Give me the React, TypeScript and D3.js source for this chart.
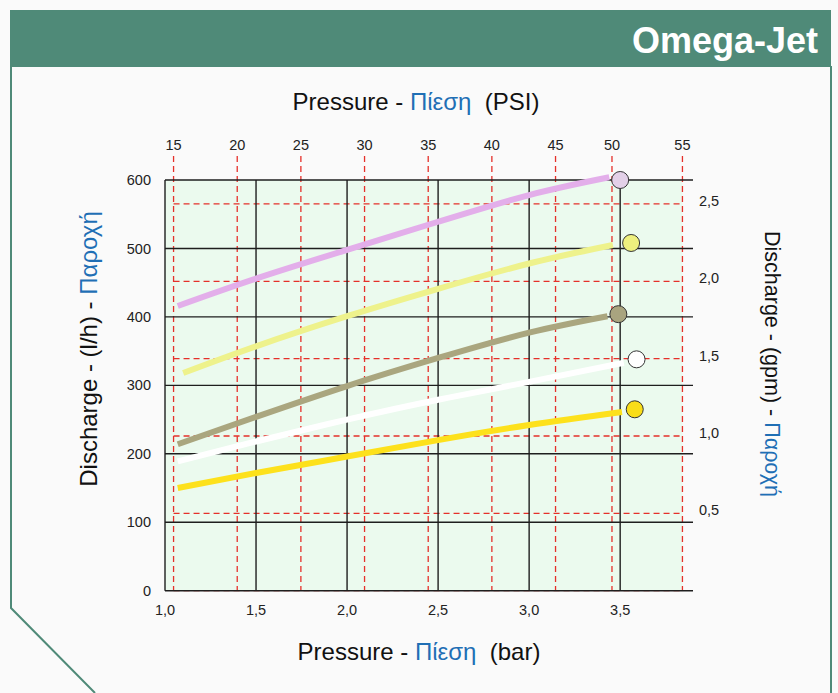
import React from "react";
import * as d3 from "d3";

const W = 838;
const H = 693;

// Data
const barTicks = [1.0, 1.5, 2.0, 2.5, 3.0, 3.5];
const lhTicks = [0, 100, 200, 300, 400, 500, 600];
const psiTicks = [15, 20, 25, 30, 35, 40, 45, 50, 55];
const gpmTicks = [0, 0.5, 1.0, 1.5, 2.0, 2.5];
const psiKnots = [15, 45, 50, 55];
const psiKnotsBar = [1.047, 3.145, 3.455, 3.842];
const lhPerGpm = 226;

const seriesNames = ["lilac", "paleYellow", "khaki", "white", "yellow"];
const lilacBar = [1.07, 1.5, 2.0, 2.5, 3.0, 3.44];
const lilacLh = [416, 456, 498, 539, 578, 604];
const paleYellowBar = [1.1, 1.5, 2.0, 2.5, 3.0, 3.46];
const paleYellowLh = [318, 357, 401, 441, 478, 505];
const khakiBar = [1.07, 1.5, 2.0, 2.5, 3.0, 3.43];
const khakiLh = [214, 254, 299, 340, 377, 401];
const whiteBar = [1.07, 1.5, 2.0, 2.5, 3.0, 3.52];
const whiteLh = [189, 218, 250, 279, 305, 333];
const yellowBar = [1.07, 1.5, 2.0, 2.5, 3.0, 3.51];
const yellowLh = [150, 172, 196, 220, 242, 261];

const markerBar = [3.5, 3.56, 3.49, 3.59, 3.58];
const markerLh = [600, 508, 404, 338, 265];

const lineColors = ["#e3aeea", "#eef28c", "#aaa67f", "#ffffff", "#fde11c"];
const markerColors = ["#e3d0e8", "#eef07e", "#a9a47f", "#ffffff", "#f9dd18"];

const seriesBar = [lilacBar, paleYellowBar, khakiBar, whiteBar, yellowBar];
const seriesLh = [lilacLh, paleYellowLh, khakiLh, whiteLh, yellowLh];

const fmt = (v: number) => v.toFixed(1).replace(".", ",");

export default function App() {
  const x = d3.scaleLinear().domain([1, 3.9]).range([165, 693]);
  const y = d3.scaleLinear().domain([0, 600]).range([590.7, 180]);
  const psiBar = d3.scaleLinear().domain(psiKnots).range(psiKnotsBar);
  const px = (p: number) => x(psiBar(p));
  const gy = (g: number) => y(g * lhPerGpm);

  const line = d3
    .line<[number, number]>()
    .x((d) => x(d[0]))
    .y((d) => y(d[1]))
    .curve(d3.curveNatural);

  const green = "#4f8a78";
  const red = "#e5302a";
  const grid = "#1e1e1e";
  const font = "'Liberation Sans', Arial, Helvetica, sans-serif";

  const xL = x(1);
  const xR = x(3.9);
  const yT = y(600);
  const yB = y(0);
  const psiL = px(15);
  const psiR = px(55);

  return (
    <svg
      width={W}
      height={H}
      style={{ position: "absolute", left: 0, top: 0, display: "block", background: "#fafafa" }}
      fontFamily={font}
    >
      <rect x={0} y={0} width={W} height={H} fill="#fafafa" />
      {/* header */}
      <rect x={10} y={10} width={821} height={57} fill={green} />
      <text x={818} y={53} textAnchor="end" fill="#fff" fontSize={36} fontWeight="bold">
        Omega-Jet
      </text>
      {/* frame */}
      <path d={`M11,66 L11,608 L95,693`} fill="none" stroke={green} strokeWidth={2} />
      <line x1={831} y1={66} x2={831} y2={H} stroke={green} strokeWidth={2} />

      {/* plot background */}
      <rect x={xL} y={yT} width={psiR - xL} height={yB - yT} fill="#ebfaee" />

      {/* red dashed PSI verticals */}
      {psiTicks.map((p) => (
        <line
          key={"pv" + p}
          x1={px(p)}
          x2={px(p)}
          y1={156}
          y2={yB}
          stroke={red}
          strokeWidth={1.3}
          strokeDasharray="6,4"
        />
      ))}
      {/* red dashed gpm horizontals */}
      {gpmTicks.map((g) => (
        <line
          key={"gh" + g}
          x1={psiL}
          x2={psiR}
          y1={gy(g)}
          y2={gy(g)}
          stroke={red}
          strokeWidth={1.3}
          strokeDasharray="6,4"
        />
      ))}

      {/* black grid */}
      {lhTicks.map((v) => (
        <line key={"hh" + v} x1={xL} x2={xR} y1={y(v)} y2={y(v)} stroke={grid} strokeWidth={1.4} />
      ))}
      {barTicks.map((b) => (
        <line key={"bv" + b} x1={x(b)} x2={x(b)} y1={yT} y2={yB} stroke={grid} strokeWidth={1.4} />
      ))}

      {/* curves */}
      {seriesNames.map((n, i) => (
        <path
          key={"c" + n}
          d={line(seriesBar[i].map((b, j) => [b, seriesLh[i][j]] as [number, number])) || ""}
          fill="none"
          stroke={lineColors[i]}
          strokeWidth={6}
        />
      ))}
      {seriesNames.map((n, i) => (
        <circle
          key={"m" + n}
          cx={x(markerBar[i])}
          cy={y(markerLh[i])}
          r={8.5}
          fill={markerColors[i]}
          stroke="#333"
          strokeWidth={1}
        />
      ))}

      {/* tick labels */}
      {lhTicks.map((v) => (
        <text key={"lt" + v} x={151} y={y(v)} dy="0.35em" textAnchor="end" fontSize={14.5} fill="#222">
          {v}
        </text>
      ))}
      {barTicks.map((b) => (
        <text key={"bt" + b} x={x(b)} y={610} dy="0.35em" textAnchor="middle" fontSize={14.5} fill="#222">
          {fmt(b)}
        </text>
      ))}
      {psiTicks.map((p) => (
        <text key={"pt" + p} x={px(p)} y={145} dy="0.35em" textAnchor="middle" fontSize={14.5} fill="#222">
          {p}
        </text>
      ))}
      {gpmTicks
        .filter((g) => g > 0)
        .map((g) => (
          <text key={"gt" + g} x={699} y={gy(g) - 3} dy="0.35em" textAnchor="start" fontSize={14.5} fill="#222">
            {fmt(g)}
          </text>
        ))}

      {/* titles */}
      <text x={416} y={102} dy="0.35em" textAnchor="middle" fontSize={24} fill="#111">
        Pressure - <tspan fill="#1f6fb5">Πίεση</tspan>
        {"\u00a0\u00a0(PSI)"}
      </text>
      <text x={419} y={652} dy="0.35em" textAnchor="middle" fontSize={24} fill="#111">
        Pressure - <tspan fill="#1f6fb5">Πίεση</tspan>
        {"\u00a0\u00a0(bar)"}
      </text>
      <text
        transform={`translate(89,349) rotate(-90)`}
        dy="0.35em"
        textAnchor="middle"
        fontSize={24}
        fill="#111"
      >
        Discharge - (l/h) - <tspan fill="#1f6fb5">Παροχή</tspan>
      </text>
      <text
        transform={`translate(773,364) rotate(90)`}
        dy="0.35em"
        textAnchor="middle"
        fontSize={21.5}
        fill="#111"
      >
        Discharge - (gpm) - <tspan fill="#1f6fb5">Παροχή</tspan>
      </text>
    </svg>
  );
}
